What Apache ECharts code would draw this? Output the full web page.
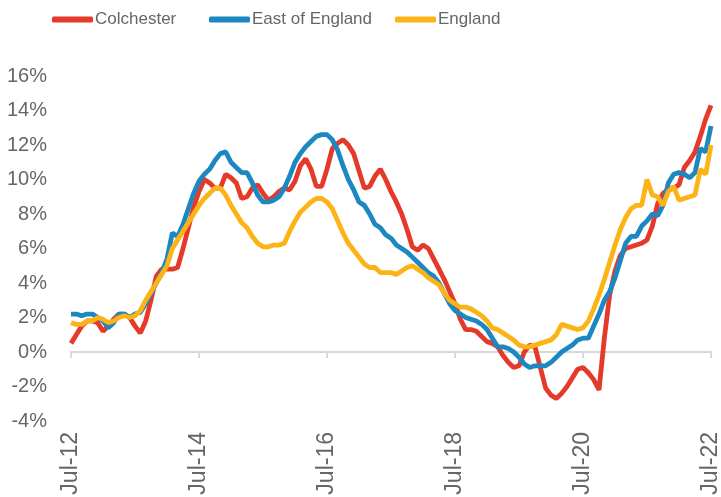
<!DOCTYPE html>
<html>
<head>
<meta charset="utf-8">
<script src="https://cdn.jsdelivr.net/npm/echarts@6/dist/echarts.min.js"></script>
<style>html,body{margin:0;padding:0;background:#fff}#c{width:721px;height:497px}</style>
</head>
<body>
<div id="c"></div>
<script>
// Monthly categories Jul-12 .. Jul-22
const monthNames = ['Jan','Feb','Mar','Apr','May','Jun','Jul','Aug','Sep','Oct','Nov','Dec'];
const categories = [];
for (let k = 0; k <= 120; k++) {
  const m = (6 + k) % 12;
  const y = 12 + Math.floor((6 + k) / 12);
  categories.push(monthNames[m] + '-' + y);
}
const seriesNames = ['Colchester', 'East of England', 'England'];

const colchester = [
  0.5,1.0,1.5,1.8,1.8,1.7,1.2,1.5,1.9,2.2,2.2,2.0,1.5,1.1,1.8,3.0,4.4,4.8,4.8,4.8,
  4.9,6.0,7.2,8.4,9.3,10.0,9.8,9.5,9.5,10.3,10.1,9.8,8.9,9.0,9.5,9.7,9.2,8.8,9.0,9.3,
  9.5,9.4,9.9,10.8,11.2,10.6,9.6,9.6,10.6,11.8,12.1,12.3,12.0,11.5,10.5,9.5,9.6,10.2,10.6,10.0,
  9.3,8.7,8.0,7.1,6.1,5.9,6.2,6.0,5.4,4.8,4.2,3.5,2.8,1.9,1.3,1.3,1.2,0.9,0.6,0.5,
  0.3,-0.2,-0.6,-0.9,-0.8,0.0,0.4,0.3,-0.9,-2.1,-2.5,-2.7,-2.4,-2.0,-1.5,-1.0,-0.9,-1.2,-1.6,-2.2,
  0.8,3.3,4.7,5.6,6.0,6.1,6.2,6.3,6.5,7.3,8.6,9.2,9.4,9.5,9.7,10.7,11.1,11.6,12.5,13.5,
  14.3
];
const eastOfEngland = [
  2.2,2.2,2.1,2.2,2.2,2.0,1.8,1.4,1.7,2.2,2.2,2.0,2.2,2.3,2.8,3.4,4.0,4.6,5.4,6.9,
  6.7,7.4,8.3,9.2,9.9,10.3,10.6,11.1,11.5,11.6,11.0,10.7,10.4,10.4,9.8,9.1,8.7,8.7,8.8,9.0,
  9.5,10.2,11.0,11.5,11.9,12.2,12.5,12.6,12.6,12.3,11.7,10.8,10.0,9.4,8.7,8.5,8.0,7.4,7.2,6.8,
  6.6,6.2,6.0,5.8,5.5,5.2,4.9,4.6,4.4,4.0,3.4,2.8,2.4,2.2,2.0,1.9,1.8,1.6,1.3,0.8,
  0.3,0.3,0.2,0.0,-0.3,-0.7,-0.9,-0.8,-0.8,-0.8,-0.6,-0.3,0.0,0.2,0.4,0.7,0.8,0.8,1.5,2.2,
  3.0,3.5,4.3,5.3,6.3,6.7,6.7,7.3,7.6,8.0,7.9,8.5,9.8,10.3,10.4,10.3,10.1,10.4,11.8,11.6,
  13.1
];
const england = [
  1.7,1.6,1.6,1.8,1.8,2.0,1.9,1.7,1.8,2.0,2.1,2.0,2.1,2.4,3.0,3.5,4.0,4.5,5.0,6.0,
  6.5,7.0,7.5,8.0,8.5,8.9,9.2,9.5,9.5,9.1,8.5,8.0,7.5,7.2,6.7,6.3,6.1,6.1,6.2,6.2,
  6.3,7.0,7.6,8.1,8.4,8.7,8.9,8.9,8.7,8.3,7.6,6.9,6.3,5.9,5.5,5.1,4.9,4.9,4.6,4.6,
  4.6,4.5,4.7,4.9,5.0,4.8,4.6,4.3,4.1,3.9,3.4,3.0,2.8,2.6,2.6,2.5,2.3,2.1,1.8,1.4,
  1.3,1.1,0.9,0.7,0.4,0.3,0.3,0.4,0.5,0.6,0.7,1.0,1.6,1.5,1.4,1.3,1.4,1.8,2.5,3.3,
  4.2,5.2,6.2,7.1,7.8,8.3,8.5,8.5,10.0,9.1,9.0,8.5,9.3,9.6,8.8,8.9,9.0,9.1,10.6,10.3,
  12.0
];
const colors = ['#E5392A', '#1C87C1', '#FCB316'];

const chart = echarts.init(document.getElementById('c'), null, {renderer: 'canvas'});
const font = "'Liberation Sans', Arial, sans-serif";
const legendLefts = [47, 204, 390];
const legends = seriesNames.map((n, i) => ({
  left: legendLefts[i], top: 6,
  icon: 'roundRect',
  itemWidth: 41, itemHeight: 6,
  textStyle: {color: '#666', fontSize: 17, fontFamily: font, padding: [0,0,0,-3]},
  data: [n]
}));
chart.setOption({
  animation: false,
  backgroundColor: '#fff',
  color: colors,
  legend: legends,
  grid: {left: 71, right: 10, top: 76, bottom: 76, outerBoundsMode: 'none'},
  xAxis: [
    {
      type: 'category', data: categories, boundaryGap: false,
      position: 'bottom',
      axisLine: {show: true, onZero: true, lineStyle: {color: '#d9d9d9', width: 2}},
      axisTick: {show: true, interval: 23, length: 6, lineStyle: {color: '#d9d9d9', width: 2}},
      axisLabel: {show: false},
      splitLine: {show: false}
    },
    {
      type: 'category', data: categories, boundaryGap: false,
      position: 'bottom',
      axisLine: {show: false, onZero: false},
      axisTick: {show: false},
      axisLabel: {show: true, interval: 23, rotate: 90, margin: 11, color: '#666', fontSize: 23, fontFamily: font},
      splitLine: {show: false}
    }
  ],
  yAxis: {
    type: 'value', min: -4, max: 16, interval: 2,
    axisLine: {show: false}, axisTick: {show: false}, splitLine: {show: false},
    axisLabel: {formatter: '{value}%', color: '#666', fontSize: 20, fontFamily: font, margin: 24}
  },
  series: [
    {name: seriesNames[0], type: 'line', data: colchester, symbol: 'none', lineStyle: {width: 4.8, color: colors[0]}},
    {name: seriesNames[1], type: 'line', data: eastOfEngland, symbol: 'none', lineStyle: {width: 4.8, color: colors[1]}},
    {name: seriesNames[2], type: 'line', data: england, symbol: 'none', lineStyle: {width: 4.8, color: colors[2]}}
  ]
});
</script>
</body>
</html>
